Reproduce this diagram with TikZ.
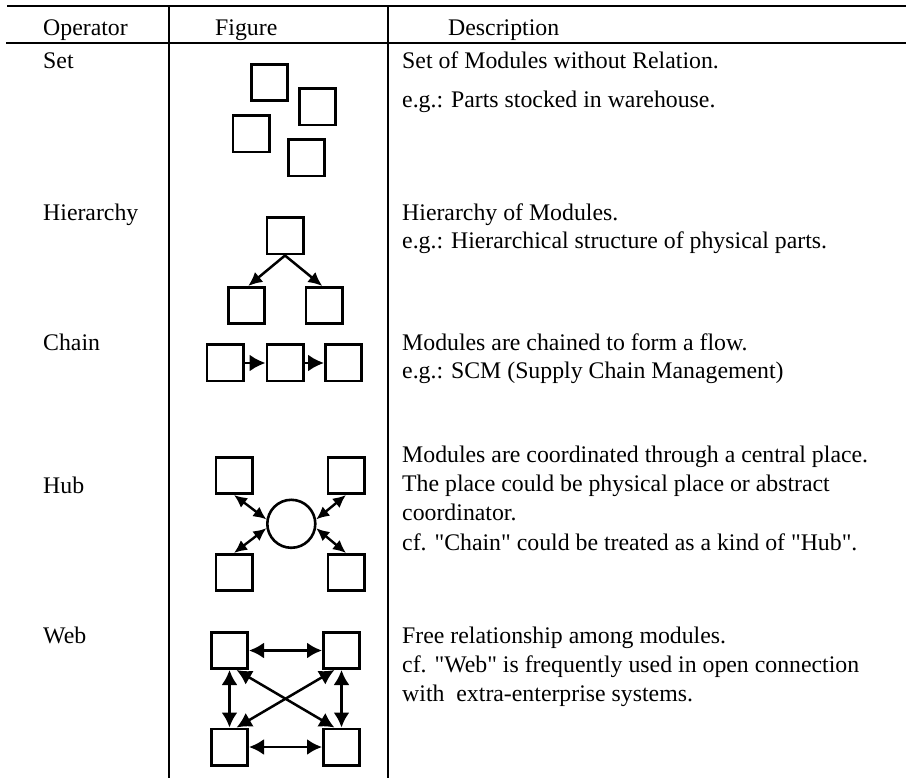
\documentclass[tikz,border=0pt]{standalone}
\usepackage{fontspec}
\setmainfont{Liberation Serif}[Ligatures=TeXOff]
\usetikzlibrary{arrows.meta}
\begin{document}
\begin{tikzpicture}[x=1pt,y=-1pt,
  modbox/.style={draw, line width=2.7pt, minimum size=36.3pt, inner sep=0pt},
  hubnode/.style={draw, circle, line width=2.6pt, minimum size=48pt, inner sep=0pt},
  link/.style={line width=2.5pt, -{Latex[length=16pt,width=17pt]}},
  linkmid/.style={line width=2.5pt, -{Latex[length=14pt,width=13pt]}},
  duplex/.style={line width=2.5pt, {Latex[length=15pt,width=16pt]}-{Latex[length=15pt,width=16pt]}},
  duplexsmall/.style={line width=2.4pt, {Latex[length=13pt,width=12pt]}-{Latex[length=13pt,width=12pt]}},
  txt/.style={anchor=base west, inner sep=0pt, font=\fontsize{23.8}{28}\selectfont},
  hrule/.style={line width=2pt},
  vrule/.style={line width=1.5pt}]
\useasboundingbox (0,0) rectangle (906,778);

% table rules
\coordinate (topL) at (7,6);   \coordinate (topR) at (906,6);
\coordinate (midL) at (6,43);  \coordinate (midR) at (906,43);
\coordinate (c1top) at (169,6); \coordinate (c1bot) at (169,778);
\coordinate (c2top) at (388,6); \coordinate (c2bot) at (388,778);
\draw[hrule] (topL) -- (topR);
\draw[hrule] (midL) -- (midR);
\draw[vrule] (c1top) -- (c1bot);
\draw[vrule] (c2top) -- (c2bot);

% header
\node[txt] (hdop)   at (43,36)  {Operator};
\node[txt] (hdfig)  at (215,36) {Figure};
\node[txt] (hddesc) at (448,36) {Description};

% operator names
\node[txt] (opset)  at (43,69)  {Set};
\node[txt] (ophier) at (43,221) {Hierarchy};
\node[txt] (opch)   at (43,351) {Chain};
\node[txt] (ophub)  at (43,493) {Hub};
\node[txt] (opweb)  at (43,643) {Web};

% descriptions
\node[txt] (dset1)  at (402,69)  {Set of Modules without Relation.};
\node[txt] (dset2)  at (402,108) {e.g.: Parts stocked in warehouse.};
\node[txt] (dhier1) at (402,221) {Hierarchy of Modules.};
\node[txt] (dhier2) at (402,249) {e.g.: Hierarchical structure of physical parts.};
\node[txt] (dch1)   at (402,351) {Modules are chained to form a flow.};
\node[txt] (dch2)   at (402,379) {e.g.: SCM (Supply Chain Management)};
\node[txt] (dhub1)  at (402,462) {Modules are coordinated through a central place.};
\node[txt] (dhub2)  at (402,491.5) {The place could be physical place or abstract};
\node[txt] (dhub3)  at (402,520.5) {coordinator.};
\node[txt] (dhub4)  at (402,550) {cf. "Chain" could be treated as a kind of "Hub".};
\node[txt] (dweb1)  at (402,643) {Free relationship among modules.};
\node[txt] (dweb2)  at (402,672) {cf. "Web" is frequently used in open connection};
\node[txt] (dweb3)  at (402,701) {with~ extra-enterprise systems.};

% Set
\node[modbox] (s1) at (269.5,82.5) {};
\node[modbox] (s2) at (317.5,107) {};
\node[modbox] (s3) at (251,134) {};
\node[modbox] (s4) at (306.5,158) {};

% Hierarchy
\node[modbox] (h0) at (285,236) {};
\node[modbox] (h1) at (246.5,305.5) {};
\node[modbox] (h2) at (324,305.5) {};
\draw[linkmid] (h0.south) -- (h1.85);
\draw[linkmid] (h0.south) -- (h2.95);

% Chain
\node[modbox] (c1) at (225,363) {};
\node[modbox] (c2) at (285,363) {};
\node[modbox] (c3) at (343.5,363) {};
\draw[link] (c1.east) -- (c2.west);
\draw[link] (c2.east) -- (c3.west);

% Hub
\node[hubnode] (hub) at (291.3,523.8) {};
\node[modbox] (htl) at (234,475.5) {};
\node[modbox] (htr) at (346,475.5) {};
\node[modbox] (hbl) at (234,572.5) {};
\node[modbox] (hbr) at (346,572.5) {};
\draw[duplexsmall] (htl.south) -- (hub.170);
\draw[duplexsmall] (hbl.north) -- (hub.190);
\draw[duplexsmall] (htr.south) -- (hub.10);
\draw[duplexsmall] (hbr.north) -- (hub.-10);

% Web
\node[modbox] (wtl) at (229.5,650.5) {};
\node[modbox] (wtr) at (341.5,650.5) {};
\node[modbox] (wbl) at (229.5,747) {};
\node[modbox] (wbr) at (341.5,747) {};
\draw[duplex] (wtl.east) -- (wtr.west);
\draw[duplex] (wbl.east) -- (wbr.west);
\draw[duplex] (wtl.south) -- (wbl.north);
\draw[duplex] (wtr.south) -- (wbr.north);
\draw[duplex] (wtl.-70) -- (wbr.110);
\draw[duplex] (wtr.-110) -- (wbl.70);
\end{tikzpicture}
\end{document}
